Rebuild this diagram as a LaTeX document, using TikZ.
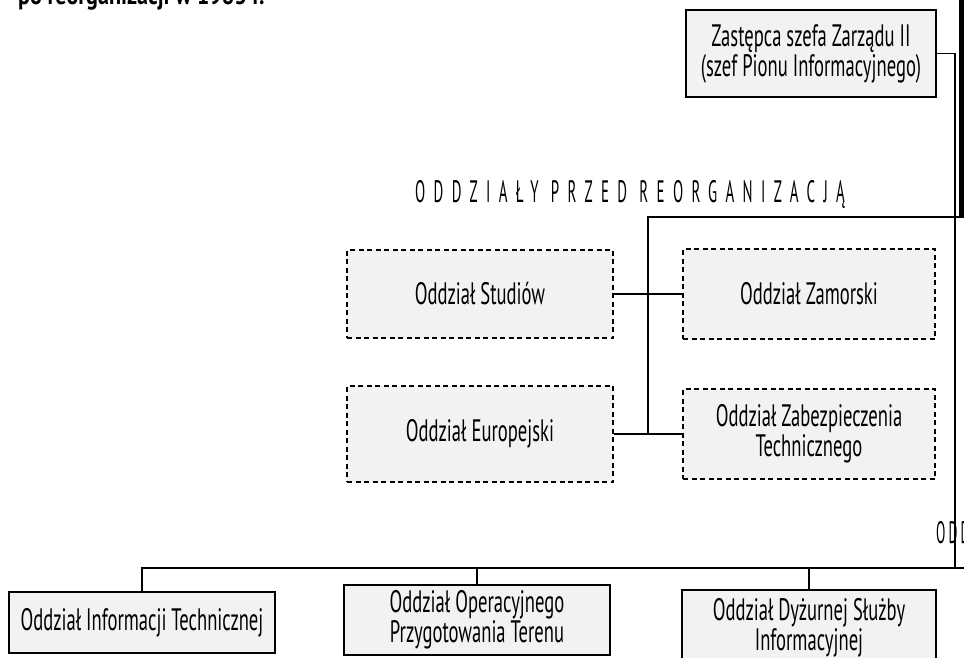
\documentclass[tikz,border=0pt]{standalone}
\usepackage{fontspec}
\setmainfont[FakeStretch=0.6]{PT Sans}
\newfontfamily\headfont[FakeStretch=0.82]{PT Sans}
\newfontfamily\spacedfont[FakeStretch=0.48,LetterSpace=27]{PT Sans}
\newfontfamily\edgefont[FakeStretch=0.44,LetterSpace=10]{PT Sans}
\begin{document}
\begin{tikzpicture}[x=1pt,y=-1pt,
  box/.style={draw, line width=1.5pt, fill=black!5, align=center,
    font=\fontsize{31}{30}\selectfont, inner sep=0pt},
  dbox/.style={box, line width=1.2pt, dash pattern=on 5pt off 3.5pt},
  link/.style={line width=1.2pt},
  caption/.style={anchor=base west, inner sep=0pt}]
\useasboundingbox (0,0) rectangle (964,658);

% heading of the page (cut by the top edge)
\node[caption, font=\headfont\bfseries\fontsize{27}{30}\selectfont]
  (heading) at (18,5) {po reorganizacji w 1983 r.};

% head of the division
\node[box, minimum width=250, minimum height=87] (chief) at (811,53.5)
  {Zastępca szefa Zarządu II\\(szef Pionu Informacyjnego)};

% section title
\node[caption, font=\spacedfont\fontsize{31}{34}\selectfont]
  (before) at (415,202) {ODDZIAŁY PRZED REORGANIZACJĄ};

% units before the reorganisation
\node[dbox, minimum width=266, minimum height=88] (stud) at (480,294) {Oddział Studiów};
\node[dbox, minimum width=252, minimum height=90] (zam) at (809,294) {Oddział Zamorski};
\node[dbox, minimum width=266, minimum height=96] (euro) at (480,434) {Oddział Europejski};
\node[dbox, minimum width=252, minimum height=90] (zab) at (809,434)
  {Oddział Zabezpieczenia\\Technicznego};

% title of the next section (cut by the right edge)
\node[caption, font=\edgefont\fontsize{31}{34}\selectfont]
  (after) at (936,543) {ODD};

% units after the reorganisation
\node[box, minimum width=266, minimum height=61] (info) at (142,622.5)
  {Oddział Informacji Technicznej};
\node[box, minimum width=266, minimum height=70] (oper) at (477,620)
  {Oddział Operacyjnego\\Przygotowania Terenu};
\node[box, minimum width=254, minimum height=75] (dyz) at (809,627.5)
  {Oddział Dyżurnej Służby\\Informacyjnej};

% connectors
\coordinate (spineT) at (955,53.5);
\coordinate (spineB) at (955,568);
\coordinate (upR) at (964,217);
\coordinate (upM) at (648,217);
\coordinate (busR) at (964,568);

\draw[line width=5pt] (961.5,0) -- (961.5,218);
\draw[link] (chief.east) -- (spineT) -- (spineB);
\draw[link] (upR) -- (upM) -- (upM |- euro.east);
\draw[link] (stud.east) -- (zam.west);
\draw[link] (euro.east) -- (zab.west);
\draw[link] (info.north) |- (busR);
\draw[link] (oper.north) -- (oper.north |- busR);
\draw[link] (dyz.north) -- (dyz.north |- busR);
\end{tikzpicture}
\end{document}
